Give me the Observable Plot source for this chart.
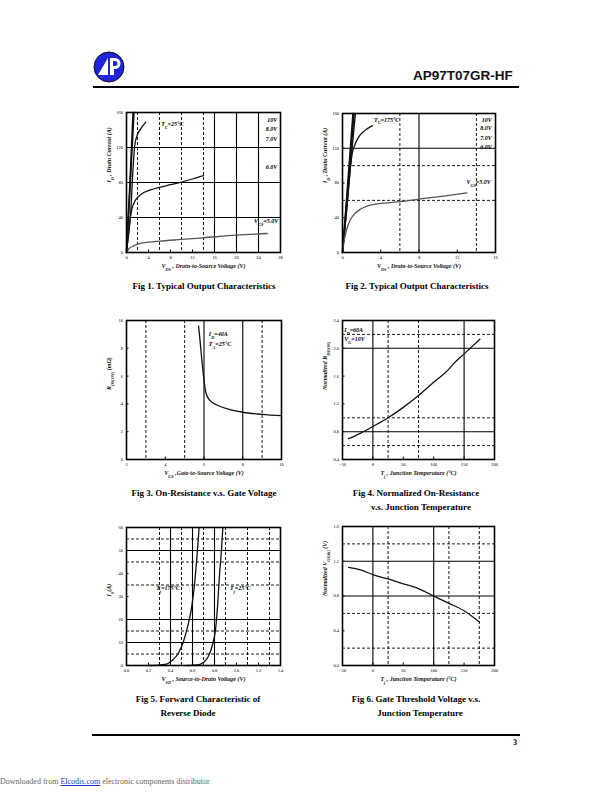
<!DOCTYPE html>
<html>
<head>
<meta charset="utf-8">
<script src="https://cdn.jsdelivr.net/npm/d3@7"></script>
<script src="https://cdn.jsdelivr.net/npm/@observablehq/plot@0.6"></script>
<style>
  body { margin: 0; background: #fff; }
  #page { position: relative; width: 612px; height: 792px; background: #fff; overflow: hidden; }
  .abs { position: absolute; }
  .cap { position: absolute; font-family: 'Liberation Serif', serif; font-weight: bold; font-size: 9px; color: #000; white-space: nowrap; transform: translateX(-50%); }
  .hdr { position: absolute; font-family: 'Liberation Sans', Arial, sans-serif; font-weight: bold; font-size: 13.5px; color: #111; }
  .rule { position: absolute; background: #000; }
  .foot { position: absolute; font-family: 'Liberation Serif', serif; font-size: 8px; color: #666; white-space: nowrap; }
  .foot a { color: #1a3ccc; text-decoration: underline; }
</style>
</head>
<body>
<div id="page"></div>
<script>
// ---------------- DATA ----------------
// Fig 1: Typical Output Characteristics, Tc = 25 C
const fig1XTicks = [0, 4, 8, 12, 16, 20, 24, 28];
const fig1YTicks = [0, 40, 80, 120, 160];
const fig1SolidX = [16, 20, 24];
const fig1DashedX = [2, 6, 10, 14];
const fig1SolidY = [40, 80, 120];
const fig1DashedY = [];
const fig1V10 = [[0, 0], [0.6, 75], [1.2, 160]];
const fig1V8 = [[0, 0], [0.65, 75], [1.35, 160]];
const fig1V7 = [[0, 0], [0.4, 22], [0.73, 42], [1.15, 92], [1.5, 122], [1.94, 134], [2.55, 141], [3.5, 149]];
const fig1V6 = [[0, 0], [0.2, 12], [0.42, 24], [0.65, 38], [1.04, 51], [1.64, 60], [2.55, 66], [4.36, 71.5], [6, 74.5], [8, 77.5], [10, 80.5], [12, 84], [14, 88]];
const fig1V5 = [[0, 0], [0.4, 4], [1.3, 7.5], [2.5, 10.3], [4, 11.8], [6, 13], [10, 14.9], [14, 16.8], [20, 19.8], [25.6, 21.7]];
const fig1Notes = [
  {t: "T_{C}=25°C", x: 6.3, y: 147, a: "start"},
  {t: "10V", x: 27.4, y: 151, a: "end"},
  {t: "8.0V", x: 27.4, y: 141, a: "end"},
  {t: "7.0V", x: 27.4, y: 130, a: "end"},
  {t: "6.0V", x: 27.4, y: 98, a: "end"},
  {t: "V_{GS}=5.0V", x: 27.6, y: 36, a: "end"}
];

// Fig 2: Typical Output Characteristics, Tc = 175 C
const fig2XTicks = [0, 4, 8, 12, 16];
const fig2YTicks = [0, 40, 80, 120, 160];
const fig2SolidX = [8];
const fig2DashedX = [6, 14];
const fig2SolidY = [120];
const fig2DashedY = [60, 100];
const fig2V10 = [[0, 0], [0.5, 72], [1.1, 160]];
const fig2V8 = [[0, 0], [0.55, 72], [1.2, 160]];
const fig2V7 = [[0, 0], [0.6, 70], [1.0, 120], [1.35, 160]];
const fig2V6 = [[0, 0], [0.45, 50], [0.8, 95], [1.0, 113], [1.3, 124], [1.7, 133], [2.3, 140], [3.13, 146]];
const fig2V5 = [[0, 0], [0.15, 12], [0.35, 23], [0.6, 32], [0.87, 38.5], [1.3, 45], [1.9, 50], [2.7, 54], [3.65, 56], [5, 57.5], [6.1, 58.5], [8, 61.5], [10.6, 65], [13, 68.6]];
const fig2Notes = [
  {t: "T_{C}=175°C", x: 3.3, y: 153, a: "start"},
  {t: "10V", x: 15.6, y: 153, a: "end"},
  {t: "8.0V", x: 15.6, y: 143, a: "end"},
  {t: "7.0V", x: 15.6, y: 132, a: "end"},
  {t: "6.0V", x: 15.6, y: 121, a: "end"},
  {t: "V_{GS}=5.0V", x: 15.5, y: 81, a: "end"}
];

// Fig 3: On-Resistance v.s. Gate Voltage
const fig3XTicks = [2, 4, 6, 8, 10];
const fig3YTicks = [0, 2, 4, 6, 8, 10];
const fig3SolidX = [6, 8];
const fig3DashedX = [3, 5, 9];
const fig3SolidY = [];
const fig3DashedY = [];
const fig3Rds = [[5.72, 9.6], [5.8, 8.5], [5.9, 7.0], [6.0, 5.7], [6.1, 4.8], [6.3, 4.25], [6.7, 3.9], [7.2, 3.65], [8, 3.4], [9, 3.25], [10, 3.15]];
const fig3Notes = [
  {t: "I_{D}=40A", x: 6.25, y: 9.0, a: "start"},
  {t: "T_{A}=25°C", x: 6.25, y: 8.3, a: "start"}
];

// Fig 4: Normalized On-Resistance v.s. Junction Temperature
const fig4XTicks = [-50, 0, 50, 100, 150, 200];
const fig4YTicks = [0.4, 0.8, 1.2, 1.6, 2.0, 2.4];
const fig4SolidX = [0, 150];
const fig4DashedX = [25, 75];
const fig4SolidY = [0.8, 2.0];
const fig4DashedY = [0.6, 1.0, 2.2];
const fig4Rn = [[-40, 0.70], [-20, 0.78], [0, 0.875], [25, 1.0], [50, 1.15], [75, 1.32], [100, 1.51], [115, 1.62], [125, 1.70], [133, 1.78], [150, 1.92], [176, 2.13]];
const fig4Notes = [
  {t: "I_{D}=60A", x: -47, y: 2.26, a: "start"},
  {t: "V_{G}=10V", x: -47, y: 2.13, a: "start"}
];

// Fig 5: Forward Characteristic of Reverse Diode
const fig5XTicks = [0, 0.2, 0.4, 0.6, 0.8, 1.0, 1.2, 1.4];
const fig5YTicks = [0, 10, 20, 30, 40, 50, 60];
const fig5SolidX = [0.4, 0.6, 0.8];
const fig5DashedX = [0.3, 0.5, 0.7, 0.9, 1.1, 1.3];
const fig5SolidY = [10, 20, 50];
const fig5DashedY = [5, 15, 35, 45, 55];
const fig5T175 = [[0.2, 0], [0.31, 0.3], [0.37, 0.7], [0.415, 2.2], [0.467, 5], [0.515, 10], [0.55, 15.9], [0.59, 24.6], [0.62, 36], [0.648, 52], [0.66, 60]];
const fig5T25 = [[0.55, 0], [0.66, 0.4], [0.70, 1.4], [0.74, 3.6], [0.78, 8.7], [0.81, 15.9], [0.828, 26], [0.845, 39], [0.864, 50.6], [0.876, 60]];
const fig5Notes = [
  {t: "T_{j}=175°C", x: 0.27, y: 33.5, a: "start"},
  {t: "T_{j}=25°C", x: 0.94, y: 33.5, a: "start"}
];

// Fig 6: Gate Threshold Voltage v.s. Junction Temperature
const fig6XTicks = [-50, 0, 50, 100, 150, 200];
const fig6YTicks = [0, 0.4, 0.8, 1.2, 1.6];
const fig6SolidX = [0, 100];
const fig6DashedX = [25, 125, 175];
const fig6SolidY = [0.8, 1.2];
const fig6DashedY = [0.2, 0.6, 1.4];
const fig6Vth = [[-40, 1.13], [-20, 1.10], [0, 1.045], [25, 0.996], [50, 0.94], [70, 0.90], [100, 0.80], [125, 0.716], [150, 0.63], [175, 0.50]];

// ---------------- DRAWING ----------------
const page = document.getElementById("page");
const ML = 40, MR = 10, MT = 10, MB = 30;

function richify(svg) {
  d3.select(svg).selectAll("text").each(function () {
    const el = this;
    if (el.querySelector("tspan")) return;
    const s = el.textContent;
    if (!/[_^]\{/.test(s)) return;
    el.textContent = "";
    const parts = s.split(/([_^]\{[^}]*\})/);
    for (const p of parts) {
      if (!p) continue;
      const ts = document.createElementNS("http://www.w3.org/2000/svg", "tspan");
      if (p.startsWith("_{")) {
        ts.textContent = p.slice(2, -1);
        ts.setAttribute("baseline-shift", "sub");
        ts.setAttribute("font-size", "70%");
      } else if (p.startsWith("^{")) {
        ts.textContent = p.slice(2, -1);
        ts.setAttribute("baseline-shift", "super");
        ts.setAttribute("font-size", "70%");
      } else {
        ts.textContent = p;
      }
      el.appendChild(ts);
    }
  });
}

const noteStyle = {x: "x", y: "y", text: "t", fontWeight: "bold", fontStyle: "italic", fontSize: 6, fill: "#000"};

function chart(o) {
  const marks = [];
  marks.push(Plot.ruleX(o.dashedX, {stroke: "#000", strokeWidth: 0.9, strokeDasharray: "3,2"}));
  marks.push(Plot.ruleY(o.dashedY, {stroke: "#000", strokeWidth: 0.9, strokeDasharray: "3,2"}));
  marks.push(Plot.ruleX(o.solidX, {stroke: "#000", strokeWidth: 1.1}));
  marks.push(Plot.ruleY(o.solidY, {stroke: "#000", strokeWidth: 1.1}));
  for (const c of o.curves) {
    marks.push(Plot.line(c.data, {x: d => d[0], y: d => d[1], stroke: c.stroke || "#111", strokeWidth: c.w || 1.3, curve: "monotone-x"}));
  }
  marks.push(Plot.frame({stroke: "#000", strokeWidth: 1.6}));
  marks.push(Plot.axisX({ticks: o.xTicks, tickSize: -2.5, tickPadding: 6, label: null, tickFormat: o.xFmt}));
  marks.push(Plot.axisY({ticks: o.yTicks, tickSize: -2.5, tickPadding: 6, label: null, tickFormat: o.yFmt}));
  marks.push(Plot.text([o.xLabel], {frameAnchor: "bottom", dy: 15, fontWeight: "bold", fontStyle: "italic", fontSize: 6, fill: "#111"}));
  marks.push(Plot.text([o.yLabel], {frameAnchor: "left", dx: -17, rotate: -90, fontWeight: "bold", fontStyle: "italic", fontSize: 6, fill: "#111"}));
  if (o.notes) {
    marks.push(Plot.text(o.notes.filter(d => d.a === "start"), {...noteStyle, textAnchor: "start"}));
    marks.push(Plot.text(o.notes.filter(d => d.a === "end"), {...noteStyle, textAnchor: "end"}));
  }
  const svg = Plot.plot({
    width: o.W + ML + MR,
    height: o.H + MT + MB,
    marginLeft: ML, marginRight: MR, marginTop: MT, marginBottom: MB,
    style: {fontFamily: "'Liberation Serif', serif", fontSize: "4.5px", background: "transparent", overflow: "visible", color: "#000"},
    x: {domain: o.xDomain},
    y: {domain: o.yDomain},
    marks
  });
  richify(svg);
  svg.style.left = (o.L - ML) + "px";
  svg.style.top = (o.T - MT) + "px";
  svg.style.position = "absolute";
  page.appendChild(svg);
}

chart({L: 126, T: 112, W: 154, H: 140, xDomain: [0, 28], yDomain: [0, 160],
  xTicks: fig1XTicks, yTicks: fig1YTicks, solidX: fig1SolidX, dashedX: fig1DashedX, solidY: fig1SolidY, dashedY: fig1DashedY,
  curves: [{data: fig1V10, w: 1.6}, {data: fig1V8, w: 1.6}, {data: fig1V7}, {data: fig1V6}, {data: fig1V5, stroke: "#555"}],
  notes: fig1Notes,
  xLabel: "V_{DS} , Drain-to-Source Voltage (V)", yLabel: "I_{D} , Drain Current (A)"});

chart({L: 342, T: 113, W: 153, H: 139, xDomain: [0, 16], yDomain: [0, 160],
  xTicks: fig2XTicks, yTicks: fig2YTicks, solidX: fig2SolidX, dashedX: fig2DashedX, solidY: fig2SolidY, dashedY: fig2DashedY,
  curves: [{data: fig2V10, w: 1.6}, {data: fig2V8, w: 1.6}, {data: fig2V7, w: 1.4}, {data: fig2V6}, {data: fig2V5, stroke: "#555"}],
  notes: fig2Notes,
  xLabel: "V_{DS} , Drain-to-Source Voltage (V)", yLabel: "I_{D} , Drain Current (A)"});

chart({L: 126, T: 320, W: 155, H: 139, xDomain: [2, 10], yDomain: [0, 10],
  xTicks: fig3XTicks, yTicks: fig3YTicks, solidX: fig3SolidX, dashedX: fig3DashedX, solidY: fig3SolidY, dashedY: fig3DashedY,
  curves: [{data: fig3Rds}],
  notes: fig3Notes,
  xLabel: "V_{GS} ,Gate-to-Source Voltage (V)", yLabel: "R_{DS(ON)} (mΩ)"});

chart({L: 342, T: 320, W: 152, H: 139, xDomain: [-50, 200], yDomain: [0.4, 2.4],
  xTicks: fig4XTicks, yTicks: fig4YTicks, solidX: fig4SolidX, dashedX: fig4DashedX, solidY: fig4SolidY, dashedY: fig4DashedY,
  yFmt: d3.format(".1f"),
  curves: [{data: fig4Rn}],
  notes: fig4Notes,
  xLabel: "T_{j} , Junction Temperature (°C)", yLabel: "Normalized R_{DS(ON)}"});

chart({L: 126, T: 527, W: 154, H: 138, xDomain: [0, 1.4], yDomain: [0, 60],
  xTicks: fig5XTicks, yTicks: fig5YTicks, solidX: fig5SolidX, dashedX: fig5DashedX, solidY: fig5SolidY, dashedY: fig5DashedY,
  curves: [{data: fig5T175}, {data: fig5T25}],
  notes: fig5Notes,
  xLabel: "V_{SD} , Source-to-Drain Voltage (V)", yLabel: "I_{S}(A)"});

chart({L: 342, T: 526, W: 152, H: 139, xDomain: [-50, 200], yDomain: [0, 1.6],
  xTicks: fig6XTicks, yTicks: fig6YTicks, solidX: fig6SolidX, dashedX: fig6DashedX, solidY: fig6SolidY, dashedY: fig6DashedY,
  yFmt: d3.format(".1f"),
  curves: [{data: fig6Vth}],
  xLabel: "T_{j} , Junction Temperature (°C)", yLabel: "Normalized V_{GS(th)} (V)"});

// ---------------- PAGE DECORATION ----------------
function addCap(text, x, y) {
  const d = document.createElement("div");
  d.className = "cap";
  d.textContent = text;
  d.style.left = x + "px";
  d.style.top = (y - 6) + "px";
  page.appendChild(d);
}
addCap("Fig 1. Typical Output Characteristics", 204, 287);
addCap("Fig 2. Typical Output Characteristics", 417, 287);
addCap("Fig 3. On-Resistance  v.s. Gate Voltage", 204, 494);
addCap("Fig 4. Normalized On-Resistance", 416, 494);
addCap("v.s. Junction Temperature", 421, 508);
addCap("Fig 5. Forward Characteristic of", 198, 700);
addCap("Reverse Diode", 188, 714);
addCap("Fig 6. Gate Threshold Voltage v.s.", 416, 700);
addCap("Junction Temperature", 420, 714);

// header
const logo = document.createElementNS("http://www.w3.org/2000/svg", "svg");
logo.setAttribute("width", "34"); logo.setAttribute("height", "34");
logo.setAttribute("viewBox", "-17 -17 34 34");
logo.style.position = "absolute"; logo.style.left = "92px"; logo.style.top = "50px";
logo.innerHTML = '<circle r="15" fill="#1f25d6" stroke="#111" stroke-width="1"/>' +
  '<path d="M-11,8 L-1,-9 L-1,8 Z" fill="#fff"/>' +
  '<path d="M1,-9 H6 A5.5,5.5 0 0 1 6,2 H5 V8 H1 Z" fill="#fff"/>' +
  '<path d="M4,-6 H6 A2.5,2.5 0 0 1 6,-1 H4 Z" fill="#1f25d6"/>';
page.appendChild(logo);

const h = document.createElement("div");
h.className = "hdr"; h.textContent = "AP97T07GR-HF";
h.style.left = "413px"; h.style.top = "68px";
page.appendChild(h);

const r1 = document.createElement("div");
r1.className = "rule"; r1.style.left = "93px"; r1.style.top = "86px"; r1.style.width = "426px"; r1.style.height = "2px";
page.appendChild(r1);
const r2 = document.createElement("div");
r2.className = "rule"; r2.style.left = "92px"; r2.style.top = "734px"; r2.style.width = "428px"; r2.style.height = "2px";
page.appendChild(r2);

const pn = document.createElement("div");
pn.className = "foot"; pn.style.color = "#000"; pn.style.fontWeight = "bold"; pn.style.fontSize = "8px";
pn.style.left = "513px"; pn.style.top = "738px"; pn.textContent = "3";
page.appendChild(pn);

const ft = document.createElement("div");
ft.className = "foot"; ft.style.left = "0px"; ft.style.top = "777px";
ft.innerHTML = 'Downloaded from <a>Elcodis.com</a>  electronic components distributor';
page.appendChild(ft);
</script>
</body>
</html>
